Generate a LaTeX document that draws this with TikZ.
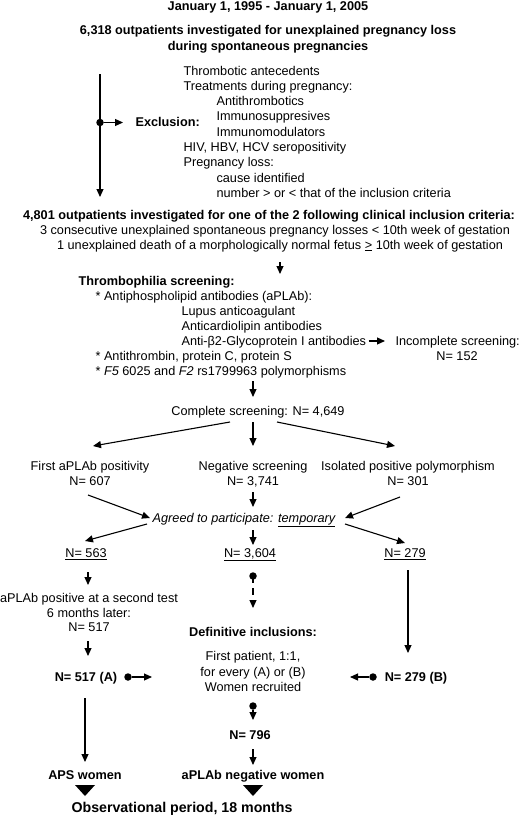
\documentclass[tikz,border=0pt]{standalone}
\usepackage{fontspec}
\setmainfont{Liberation Sans}
\usetikzlibrary{arrows.meta}
\AtBeginDocument{\fontsize{12.7}{15.3}\selectfont}

\tikzset{
    txt/.style={inner sep=0pt, anchor=base},
    ltxt/.style={inner sep=0pt, anchor=base west},
    btxt/.style={txt, font=\bfseries},
    dot/.style={circle, fill, inner sep=0pt, minimum size=7.5pt},
}

\begin{document}
\begin{tikzpicture}[x=1pt, y=-1pt, line width=1.1pt, >={Triangle[length=8pt, width=7pt]}]
    \useasboundingbox (0,0) rectangle (520,816);

    % Period and all outpatients
    \node[btxt] (period) at (268,11) {January 1, 1995 - January 1, 2005};
    \node[btxt] (all1) at (268,35) {6,318 outpatients investigated for unexplained pregnancy loss};
    \node[btxt] (all2) at (268,50.5) {during spontaneous pregnancies};

    % Exclusion criteria
    \coordinate (extop) at (100,74);
    \coordinate (exbot) at (100,197);
    \node[dot] (exdot) at (100,122.5) {};
    \coordinate (exend) at (123,122.5);
    \draw[->] (extop) -- (exbot);
    \draw[->] (exdot) -- (exend);
    \node[ltxt, font=\bfseries] (exlab) at (135,126) {Exclusion:};
    \node[ltxt] (ex1) at (183,75) {Thrombotic antecedents};
    \node[ltxt] (ex2) at (183,90.3) {Treatments during pregnancy:};
    \node[ltxt] (ex3) at (216,105.6) {Antithrombotics};
    \node[ltxt] (ex4) at (216,120.9) {Immunosuppresives};
    \node[ltxt] (ex5) at (216,136.2) {Immunomodulators};
    \node[ltxt] (ex6) at (183,151.5) {HIV, HBV, HCV seropositivity};
    \node[ltxt] (ex7) at (183,166.8) {Pregnancy loss:};
    \node[ltxt] (ex8) at (216,182.1) {cause identified};
    \node[ltxt] (ex9) at (216,197.4) {number > or < that of the inclusion criteria};

    % Inclusion criteria
    \node[btxt] (incl) at (269,219) {4,801 outpatients investigated for one of the 2 following clinical inclusion criteria:};
    \node[txt] (incl1) at (275,234) {3 consecutive unexplained spontaneous pregnancy losses < 10th week of gestation};
    \node[txt] (incl2) at (280,249) {1 unexplained death of a morphologically normal fetus \underline{>} 10th week of gestation};

    % Thrombophilia screening
    \coordinate (scrtop) at (280,262);
    \coordinate (scrend) at (280,274);
    \draw[->] (scrtop) -- (scrend);
    \node[ltxt, font=\bfseries] (scr) at (78,285.5) {Thrombophilia screening:};
    \node[ltxt] (scr1) at (95,300.5) {* Antiphospholipid antibodies (aPLAb):};
    \node[ltxt] (scr2) at (181,315.5) {Lupus anticoagulant};
    \node[ltxt] (scr3) at (181,330.5) {Anticardiolipin antibodies};
    \node[ltxt] (scr4) at (181,345.5) {Anti-β2-Glycoprotein I antibodies};
    \node[ltxt] (scr5) at (95,360.5) {* Antithrombin, protein C, protein S};
    \node[ltxt] (scr6) at (95,375.5) {* \textit{F5} 6025 and \textit{F2} rs1799963 polymorphisms};
    \node[ltxt] (inc1) at (395,345.5) {Incomplete screening:};
    \node[txt] (inc2) at (457,360.5) {N= 152};
    \draw[->, shorten <=2pt, shorten >=10pt] (scr4.base east) ++(0,-4.5) coordinate (incst) -- (inc1.base west |- incst);

    % Complete screening and the three groups
    \coordinate (cstop) at (253,381);
    \coordinate (csend) at (253,397);
    \draw[->] (cstop) -- (csend);
    \node[txt] (cs) at (258,415.5) {Complete screening: N= 4,649};
    \coordinate (csl) at (230,422);
    \coordinate (csm) at (253,422);
    \coordinate (csr) at (277,422);
    \coordinate (posend) at (93,446);
    \coordinate (negend) at (253,446);
    \coordinate (polend) at (395,446);
    \draw[->] (csl) -- (posend);
    \draw[->] (csm) -- (negend);
    \draw[->] (csr) -- (polend);
    \node[txt] (pos1) at (90,470.5) {First aPLAb positivity};
    \node[txt] (pos2) at (90,485.5) {N= 607};
    \node[txt] (neg1) at (253,470.5) {Negative screening};
    \node[txt] (neg2) at (253,485.5) {N= 3,741};
    \node[txt] (pol1) at (408,470.5) {Isolated positive polymorphism};
    \node[txt] (pol2) at (408,485.5) {N= 301};

    % Agreed to participate
    \node[txt, font=\itshape] (agr) at (244,522.5) {Agreed to participate: \underline{temporary}};
    \coordinate (posst) at (88,495);
    \coordinate (negst) at (253,492);
    \coordinate (polst) at (400,497);
    \coordinate (agrl) at (150,518);
    \coordinate (agrm) at (253,507);
    \coordinate (agrr) at (345,518);
    \draw[->] (posst) -- (agrl);
    \draw[->] (negst) -- (agrm);
    \draw[->] (polst) -- (agrr);
    \coordinate (agrol) at (147,524);
    \coordinate (agrom) at (253,530);
    \coordinate (agror) at (345,524);
    \coordinate (n563end) at (85,541);
    \coordinate (n3604end) at (253,545);
    \coordinate (n279end) at (405,543);
    \draw[->] (agrol) -- (n563end);
    \draw[->] (agrom) -- (n3604end);
    \draw[->] (agror) -- (n279end);
    \node[txt] (n563) at (86,557.5) {\underline{N= 563}};
    \node[txt] (n3604) at (250,557.5) {\underline{N= 3,604}};
    \node[txt] (n279) at (405,557.5) {\underline{N= 279}};

    % Second aPLAb test
    \coordinate (sectop) at (88,572);
    \coordinate (secend) at (88,585);
    \draw[->] (sectop) -- (secend);
    \node[txt] (sec1) at (89,602.5) {aPLAb positive at a second test};
    \node[txt] (sec2) at (89,617.5) {6 months later:};
    \node[txt] (sec3) at (89,631.5) {N= 517};
    \coordinate (atop) at (88,641);
    \coordinate (aend) at (88,656);
    \draw[->] (atop) -- (aend);
    \node[btxt] (na) at (86,681.5) {N= 517 (A)};
    \node[dot] (adot) at (128,677) {};
    \coordinate (aarr) at (152,677);
    \draw[->] (adot) -- (aarr);

    % Definitive inclusions
    \node[dot] (negdot) at (253,576) {};
    \coordinate (negdend) at (253,608);
    \draw[->, dash pattern=on 7pt off 5pt on 7pt off 20pt] (negdot.center) -- (negdend);
    \node[btxt] (def) at (253,636.5) {Definitive inclusions:};
    \node[txt] (def1) at (253,660.5) {First patient, 1:1,};
    \node[txt] (def2) at (253,676.5) {for every (A) or (B)};
    \node[txt] (def3) at (253,691.5) {Women recruited};
    \coordinate (btop) at (408,570);
    \coordinate (bend) at (408,653);
    \draw[->] (btop) -- (bend);
    \node[btxt] (nb) at (416,681.5) {N= 279 (B)};
    \node[dot] (bdot) at (373,677) {};
    \coordinate (barr) at (350,677);
    \draw[->] (bdot) -- (barr);
    \node[dot] (defdot) at (253,706) {};
    \coordinate (defend) at (253,720);
    \draw[->] (defdot) -- (defend);
    \node[btxt] (n796) at (250,739.5) {N= 796};
    \coordinate (ctop) at (253,749);
    \coordinate (cend) at (253,765);
    \draw[->] (ctop) -- (cend);

    % APS women and controls
    \coordinate (apstop) at (85,698);
    \coordinate (apsend) at (85,762);
    \draw[->] (apstop) -- (apsend);
    \node[btxt] (aps) at (85,779.5) {APS women};
    \node[btxt] (ctl) at (253,779.5) {aPLAb negative women};
    \fill (75,785) -- (95,785) -- (85,796) -- cycle;
    \fill (243,785) -- (263,785) -- (253,796) -- cycle;
    \node[btxt, font=\fontsize{14.2}{17}\selectfont\bfseries] (obs) at (182,812) {Observational period, 18 months};
\end{tikzpicture}
\end{document}
